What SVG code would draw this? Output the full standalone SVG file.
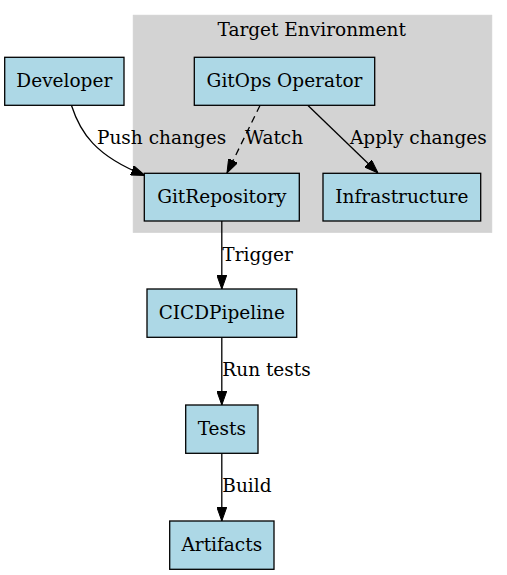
<svg xmlns="http://www.w3.org/2000/svg" width="507" height="575" viewBox="0 0 507 575">
<style>
text{font-family:"DejaVu Serif","Liberation Serif",serif;font-size:18.5px;fill:#000}
.n rect{fill:#add8e6;stroke:#000;stroke-width:1.3}
.c text{text-anchor:middle}
.e{fill:none;stroke:#000;stroke-width:1.3}
.dash{stroke-dasharray:7,5}
</style>
<defs>
<marker id="ah" viewBox="0 0 14 10" refX="14" refY="5" markerWidth="14" markerHeight="10" markerUnits="userSpaceOnUse" orient="auto">
<path d="M0,0 L14,5 L0,10 Z" fill="#000" stroke="#000" stroke-width="1"/>
</marker>
</defs>
<rect width="507" height="575" fill="#fff"/>
<g id="cluster_target">
<rect x="133.3" y="15.3" width="358.4" height="217" fill="#d3d3d3" stroke="#d3d3d3"/>
<text x="311.7" y="36" text-anchor="middle">Target Environment</text>
</g>
<g id="connectors">
<path class="e" d="M71.5,105.5 C80,132 95,156 145,175.5" marker-end="url(#ah)"/>
<path class="e dash" d="M260,105.5 L227,173" marker-end="url(#ah)"/>
<path class="e" d="M308,105.5 L378,173" marker-end="url(#ah)"/>
<path class="e" d="M221.8,221 L221.8,289" marker-end="url(#ah)"/>
<path class="e" d="M221.8,337.3 L221.8,405" marker-end="url(#ah)"/>
<path class="e" d="M221.8,453.3 L221.8,521" marker-end="url(#ah)"/>
<text x="97" y="144">Push changes</text>
<text x="245" y="144">Watch</text>
<text x="350" y="144">Apply changes</text>
<text x="222.3" y="260.7">Trigger</text>
<text x="222.3" y="376">Run tests</text>
<text x="222.3" y="491.7">Build</text>
</g>
<g id="Developer" class="n c">
<rect x="4.7" y="57.3" width="119.3" height="48"/>
<text x="64.3" y="87.3">Developer</text>
</g>
<g id="GitOpsOperator" class="n c">
<rect x="194.3" y="57.3" width="180.4" height="48"/>
<text x="284.5" y="87.3">GitOps Operator</text>
</g>
<g id="GitRepository" class="n c">
<rect x="144.3" y="173.3" width="155" height="47.7"/>
<text x="221.8" y="202.5">GitRepository</text>
</g>
<g id="Infrastructure" class="n c">
<rect x="323" y="173.3" width="157.7" height="47.7"/>
<text x="401.8" y="202.5">Infrastructure</text>
</g>
<g id="CICDPipeline" class="n c">
<rect x="147" y="289" width="149.7" height="48.3"/>
<text x="221.8" y="318.5">CICDPipeline</text>
</g>
<g id="Tests" class="n c">
<rect x="185.7" y="405" width="72.3" height="48.3"/>
<text x="221.8" y="434.5">Tests</text>
</g>
<g id="Artifacts" class="n c">
<rect x="169.7" y="521" width="104.3" height="48.3"/>
<text x="221.8" y="550.5">Artifacts</text>
</g>
</svg>
